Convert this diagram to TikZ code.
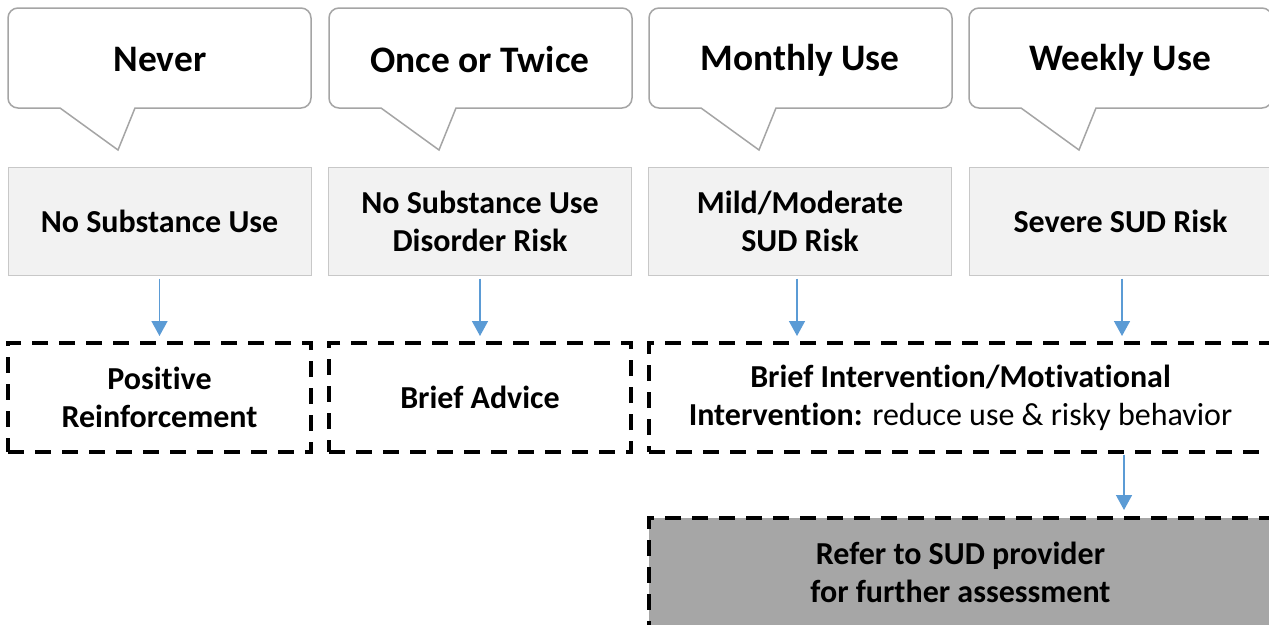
\documentclass[tikz,border=0pt]{standalone}
\usepackage{fontspec}
\setmainfont{Carlito}[Ligatures=NoCommon]
\usetikzlibrary{arrows.meta}
\definecolor{bubblegray}{HTML}{A5A5A5}
\definecolor{boxfill}{HTML}{F2F2F2}
\definecolor{boxline}{HTML}{C8C8C8}
\definecolor{arrowblue}{HTML}{5B9BD5}
\definecolor{darkfill}{HTML}{A6A6A6}
\newcommand\bubbleshape[1]{%
  \draw[bubble] ({#1+127},108) -- ({#1+293},108) arc(90:0:10) -- ({#1+303},18) arc(0:-90:10)
    -- ({#1+10},8) arc(-90:-180:10) -- (#1,98) arc(180:90:10) -- ({#1+52},108) -- ({#1+110},150) -- cycle;}
\begin{document}
\begin{tikzpicture}[x=1pt,y=-1pt,
  bubble/.style={draw=bubblegray,line width=1.5pt,fill=white,line join=miter},
  head/.style={font=\fontsize{37.4}{44}\selectfont\bfseries},
  riskbox/.style={draw=boxline,line width=1pt,fill=boxfill,minimum width=303pt,minimum height=108pt,
    align=center,font=\fontsize{32}{38}\selectfont\bfseries,inner sep=0pt},
  actbox/.style={draw=black,line width=4pt,dash pattern=on 16pt off 11pt,minimum height=109pt,
    align=center,font=\fontsize{32}{38}\selectfont\bfseries,inner sep=0pt},
  flow/.style={draw=arrowblue,line width=1.5pt,-{Triangle[width=16pt,length=15pt]}}]
\useasboundingbox (0,0) rectangle (1269,624);
\clip (0,0) rectangle (1269,624);
\fill[white] (0,0) rectangle (1269,624);
% speech bubbles
\bubbleshape{8}
\bubbleshape{329}
\bubbleshape{649}
\bubbleshape{969}
\node[head] (h1) at (160,60) {Never};
\node[head] (h2) at (480,60) {Once or Twice};
\node[head] (h3) at (800,60) {Monthly Use};
\node[head] (h4) at (1120,60) {Weekly Use};
% risk boxes
\node[riskbox] (r1) at (159.5,221) {No Substance Use};
\node[riskbox] (r2) at (480,221) {No Substance Use\\Disorder Risk};
\node[riskbox] (r3) at (800,221) {Mild/Moderate\\SUD Risk};
\node[riskbox] (r4) at (1120.5,221) {Severe SUD Risk};
% action boxes
\node[actbox,minimum width=303pt] (a1) at (159.5,397.5) {Positive\\Reinforcement};
\node[actbox,minimum width=302pt] (a2) at (480,397.5) {Brief Advice};
\node[actbox,minimum width=623pt] (a3) at (960.5,397.5) {Brief Intervention/Motivational\\Intervention: \mdseries reduce use \& risky behavior};
\node[actbox,fill=darkfill,minimum width=623pt] (a4) at (960.5,572.5) {Refer to SUD provider\\for further assessment};
% connectors
\draw[flow,shorten <=3pt,shorten >=5pt] (r1.south) -- (a1.north);
\draw[flow,shorten <=3pt,shorten >=5pt] (r2.south) -- (a2.north);
\draw[flow,shorten <=3pt,shorten >=5pt] ([xshift=-3pt]r3.south) -- ([xshift=-3pt]r3.south |- a3.north);
\draw[flow,shorten <=3pt,shorten >=5pt] ([xshift=1.5pt]r4.south) -- ([xshift=1.5pt]r4.south |- a3.north);
\coordinate (c4) at ([xshift=3.5pt]r4.south);
\draw[flow,shorten <=1pt,shorten >=6pt] (c4 |- a3.south) -- (c4 |- a4.north);
\end{tikzpicture}
\end{document}
